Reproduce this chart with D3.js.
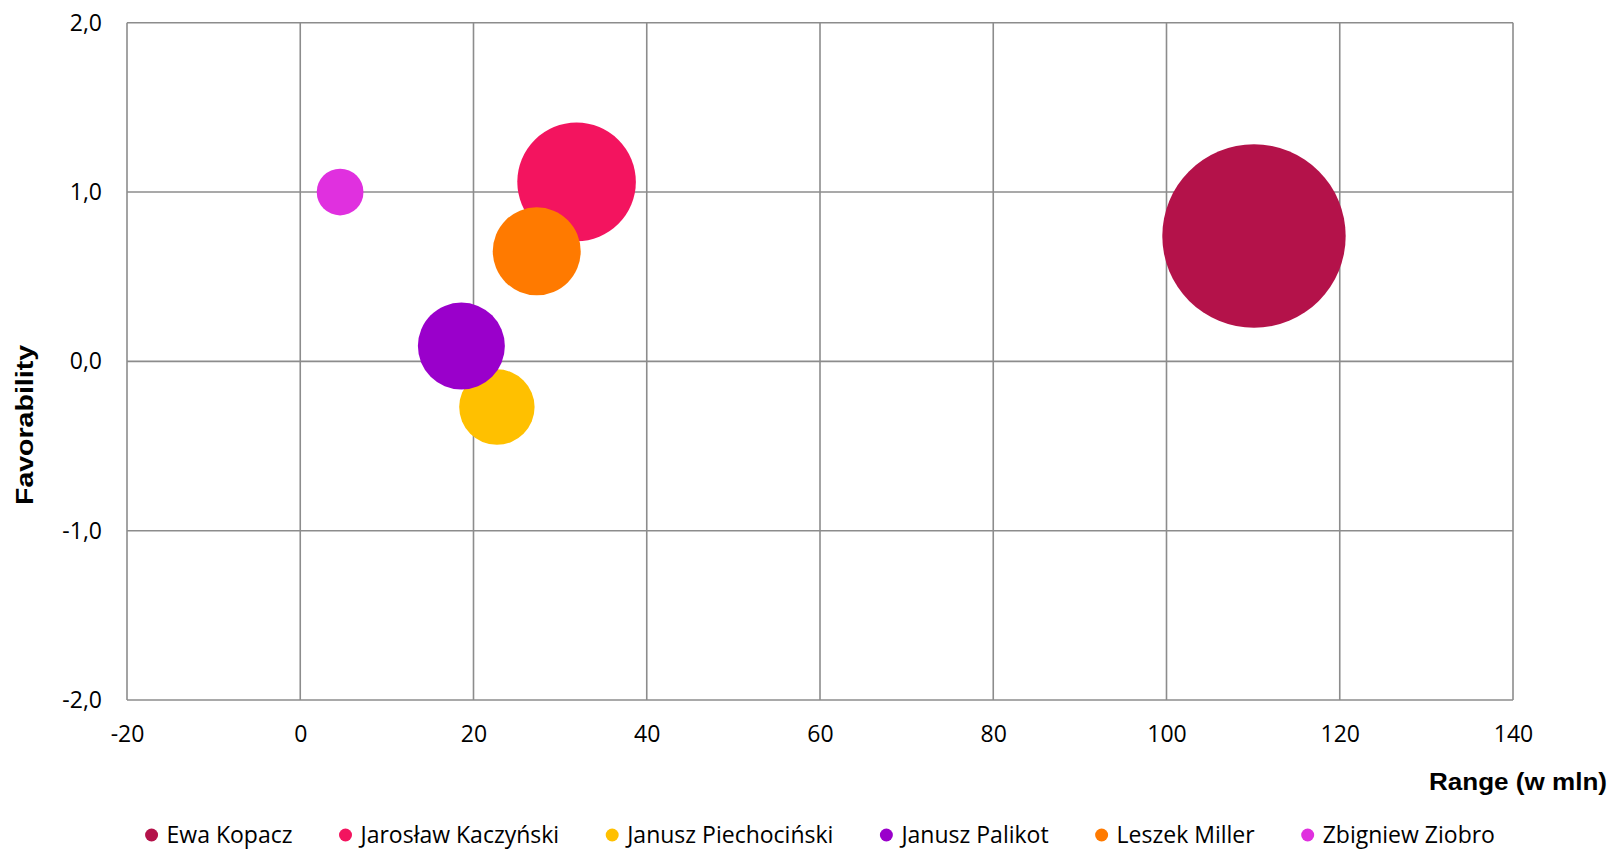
<!DOCTYPE html>
<html>
<head>
<meta charset="utf-8">
<script src="https://cdn.jsdelivr.net/npm/d3@7"></script>
<style>
  html, body { margin: 0; padding: 0; background: #fff; }
  svg { display: block; }
</style>
</head>
<body>
<svg id="chart" width="1614" height="851"></svg>
<script>
// ---- data ----
const names = ["Ewa Kopacz", "Jarosław Kaczyński", "Janusz Piechociński", "Janusz Palikot", "Leszek Miller", "Zbigniew Ziobro"];
const rangeValues = [110.1, 31.9, 22.7, 18.6, 27.3, 4.6];          // x: Range (w mln)
const favorabilityValues = [0.74, 1.06, -0.27, 0.09, 0.65, 1.0];   // y: Favorability
const bubbleSizes = [100, 41.8, 16.9, 22.5, 23.0, 6.5];             // bubble size (area)
const colors = ["#b4124a", "#f3145f", "#ffc000", "#9a00cb", "#ff7a00", "#e030df"];
const xTicks = [-20, 0, 20, 40, 60, 80, 100, 120, 140];
const yTicks = [-2, -1, 0, 1, 2];

const data = names.map((n, i) => ({ name: n, x: rangeValues[i], y: favorabilityValues[i], s: bubbleSizes[i], c: colors[i] }));

const svg = d3.select("#chart");
const m = { left: 127, right: 1513, top: 22.7, bottom: 700 };

const x = d3.scaleLinear().domain([-20, 140]).range([m.left, m.right]);
const y = d3.scaleLinear().domain([-2, 2]).range([m.bottom, m.top]);
const r = d3.scaleSqrt().domain([0, 100]).range([0, 91.7]);

const fmtY = v => d3.format(".1f")(v).replace(".", ",").replace("−", "-");
const tickFont = "'Open Sans', sans-serif";

// gridlines
const grid = svg.append("g").attr("class", "grid");
grid.selectAll("line.v").data(xTicks).join("line")
  .attr("x1", d => x(d)).attr("x2", d => x(d))
  .attr("y1", m.top).attr("y2", m.bottom)
  .attr("stroke", "#8c8c8c").attr("stroke-width", 1.6);
grid.selectAll("line.h").data(yTicks).join("line")
  .attr("y1", d => y(d)).attr("y2", d => y(d))
  .attr("x1", m.left).attr("x2", m.right)
  .attr("stroke", "#8c8c8c").attr("stroke-width", 1.6);

// axes (labels only, via d3 axis)
const xAxis = svg.append("g").attr("transform", `translate(0,${m.bottom})`)
  .call(d3.axisBottom(x).tickValues(xTicks).tickSize(0).tickPadding(26).tickFormat(d => String(d)));
const yAxis = svg.append("g").attr("transform", `translate(${m.left},0)`)
  .call(d3.axisLeft(y).tickValues(yTicks).tickSize(0).tickPadding(25).tickFormat(fmtY));
[xAxis, yAxis].forEach(a => {
  a.select(".domain").remove();
  a.selectAll("text").attr("font-family", tickFont).attr("font-size", 23).attr("fill", "#000");
});

// bubbles
svg.append("g").selectAll("circle").data(data).join("circle")
  .attr("cx", d => x(d.x)).attr("cy", d => y(d.y)).attr("r", d => r(d.s))
  .attr("fill", d => d.c);

// axis titles
svg.append("text").text("Range (w mln)")
  .attr("x", 1607).attr("y", 790).attr("text-anchor", "end")
  .attr("textLength", 178).attr("lengthAdjust", "spacingAndGlyphs")
  .attr("font-family", "'Liberation Sans', Arial, sans-serif").attr("font-weight", "bold")
  .attr("font-size", 24).attr("fill", "#000");
svg.append("text").text("Favorability")
  .attr("transform", "translate(33,425) rotate(-90)").attr("text-anchor", "middle")
  .attr("textLength", 160).attr("lengthAdjust", "spacingAndGlyphs")
  .attr("font-family", "'Liberation Sans', Arial, sans-serif").attr("font-weight", "bold")
  .attr("font-size", 24).attr("fill", "#000");

// legend
const lg = svg.append("g");
const items = lg.selectAll("g").data(data).join("g");
items.append("circle").attr("r", 6.5).attr("cx", 0).attr("cy", -8).attr("fill", d => d.c);
items.append("text").text(d => d.name).attr("x", 15).attr("y", 0)
  .attr("font-family", tickFont).attr("font-size", 23).attr("fill", "#000");
const gap = 53;
let pos = 0; const offs = [];
items.each(function() {
  offs.push(pos);
  const w = d3.select(this).select("text").node().getComputedTextLength();
  pos += 15 + w + gap;
});
const total = pos - gap + 6.5;
const start = (m.left + m.right) / 2 - total / 2 + 6.5;
items.attr("transform", (d, i) => `translate(${start + offs[i]},843)`);
</script>
</body>
</html>
